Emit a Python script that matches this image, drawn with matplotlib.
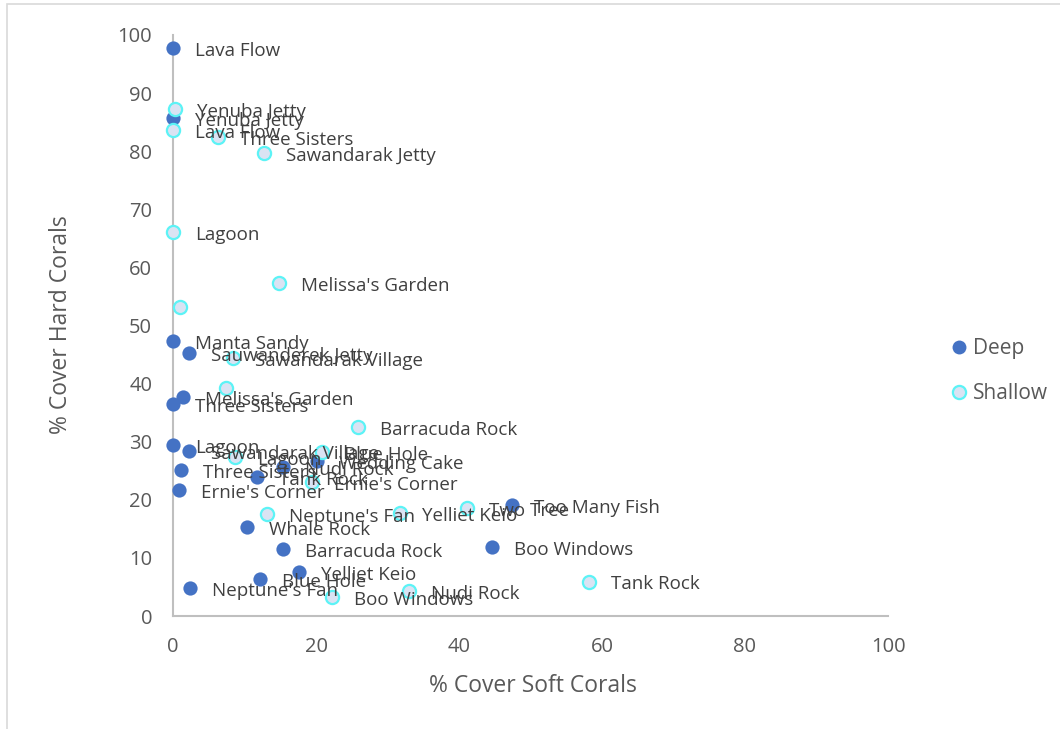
import matplotlib
matplotlib.use("Agg")
import matplotlib.pyplot as plt
from matplotlib.lines import Line2D
from matplotlib.patches import Rectangle

plt.rcParams['font.family'] = ['Open Sans', 'DejaVu Sans']

# Deep sites: % soft coral cover (x), % hard coral cover (y)
deep_sites = ["Lava Flow", "Yenuba Jetty", "Manta Sandy", "Sauwanderek Jetty",
              "Melissa's Garden", "Three Sisters", "Lagoon", "Sawandarak Village",
              "Three Sisters", "Ernie's Corner", "Wedding Cake", "Nudi Rock",
              "Tank Rock", "Too Many Fish", "Whale Rock", "Barracuda Rock",
              "Boo Windows", "Yelliet Keio", "Blue Hole", "Neptune's Fan"]
deep_soft = [0.0, 0.0, 0.0, 2.2, 1.4, 0.0, 0.0, 2.2, 1.1, 0.8,
             20.1, 15.4, 11.7, 47.4, 10.3, 15.4, 44.6, 17.6, 12.2, 2.4]
deep_hard = [97.8, 85.7, 47.3, 45.3, 37.7, 36.5, 29.4, 28.4, 25.1, 21.7,
             26.7, 25.6, 23.9, 19.1, 15.3, 11.5, 11.9, 7.6, 6.4, 4.8]

# Shallow sites (two points carry no label)
shallow_sites = ["Yenuba Jetty", "Lava Flow", "Three Sisters", "Sawandarak Jetty",
                 "Lagoon", "Melissa's Garden", "", "Sawandarak Village", "",
                 "Barracuda Rock", "Blue Hole", "Lagoon", "Ernie's Corner",
                 "Neptune's Fan", "Yelliet Keio", "Two Tree", "Boo Windows",
                 "Nudi Rock", "Tank Rock"]
shallow_soft = [0.3, 0.0, 6.3, 12.7, 0.0, 14.8, 1.0, 8.4, 7.4, 25.9,
                20.8, 8.7, 19.4, 13.1, 31.7, 41.1, 22.2, 33.0, 58.2]
shallow_hard = [87.3, 83.6, 82.4, 79.7, 66.1, 57.3, 53.2, 44.4, 39.2, 32.5,
                28.2, 27.4, 23.1, 17.6, 17.7, 18.6, 3.3, 4.3, 5.9]

x_ticks = [0, 20, 40, 60, 80, 100]
y_ticks = [0, 10, 20, 30, 40, 50, 60, 70, 80, 90, 100]

DEEP_COLOR = "#4472C4"
SHALLOW_FACE = "#DAE3F3"
SHALLOW_EDGE = "#5CF3F6"
AXIS_GREY = "#BFBFBF"
TEXT_GREY = "#595959"
LABEL_GREY = "#404040"

fig = plt.figure(figsize=(10.6, 7.29), dpi=100)
ax = fig.add_axes([173 / 1060, 113 / 729, 715 / 1060, 581 / 729])

ax.scatter(deep_soft, deep_hard, s=105, color=DEEP_COLOR, linewidths=0,
           zorder=3, clip_on=False)
ax.scatter(shallow_soft, shallow_hard, s=90, facecolor=SHALLOW_FACE,
           edgecolor=SHALLOW_EDGE, linewidths=1.6, zorder=4, clip_on=False)

for name, xv, yv in list(zip(deep_sites, deep_soft, deep_hard)) + \
        list(zip(shallow_sites, shallow_soft, shallow_hard)):
    if name:
        ax.annotate(name, (xv, yv), xytext=(15.8, -2), textcoords="offset points",
                    ha="left", va="center", fontsize=13.5, color=LABEL_GREY,
                    zorder=6, annotation_clip=False)

ax.set_xlim(0, 100)
ax.set_ylim(0, 100)
ax.set_xticks(x_ticks)
ax.set_yticks(y_ticks)
ax.tick_params(length=0, labelsize=14.5, labelcolor=TEXT_GREY)
ax.tick_params(axis="x", pad=15)
ax.tick_params(axis="y", pad=15)
for side in ("top", "right"):
    ax.spines[side].set_visible(False)
for side in ("left", "bottom"):
    ax.spines[side].set_color(AXIS_GREY)
    ax.spines[side].set_linewidth(1.5)
ax.patch.set_visible(False)

fig.text(533 / 1060, 1 - 686 / 729, "% Cover Soft Corals", ha="center",
         va="center", fontsize=16.5, color=TEXT_GREY)
fig.text(61 / 1060, 1 - 325 / 729, "% Cover Hard Corals", ha="center",
         va="center", rotation=90, fontsize=16.5, color=TEXT_GREY)

handles = [
    Line2D([], [], linestyle="none", marker="o", markersize=10,
           markerfacecolor=DEEP_COLOR, markeredgewidth=0, label="Deep"),
    Line2D([], [], linestyle="none", marker="o", markersize=9.5,
           markerfacecolor=SHALLOW_FACE, markeredgecolor=SHALLOW_EDGE,
           markeredgewidth=1.6, label="Shallow"),
]
leg = fig.legend(handles=handles, loc="center left",
                 bbox_to_anchor=(940 / 1060, 1 - 371 / 729), frameon=False,
                 handlelength=0.8, handletextpad=0.3, labelspacing=1.15,
                 borderpad=0, fontsize=15)
for t in leg.get_texts():
    t.set_color(TEXT_GREY)

# Outer chart frame
fig.add_artist(Rectangle((7 / 1060, -0.05), 1.1, 1 - 4 / 729 + 0.05,
                         transform=fig.transFigure, fill=False,
                         edgecolor="#D9D9D9", linewidth=1.2))

fig.savefig("out.png", dpi=100, facecolor="white")
